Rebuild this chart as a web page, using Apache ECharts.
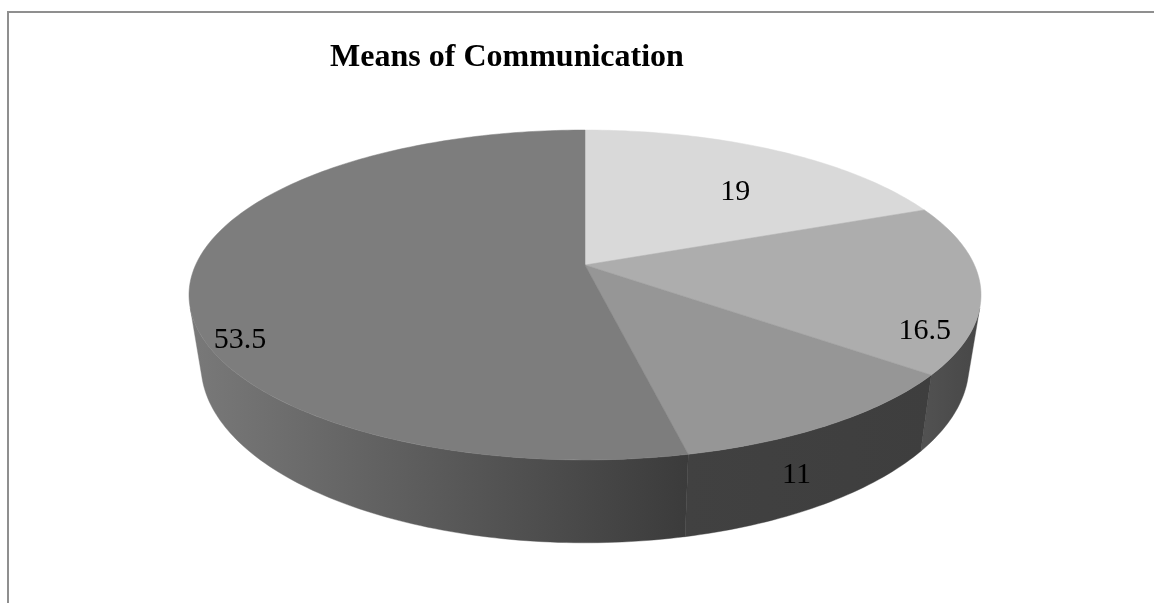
<!DOCTYPE html>
<html>
<head>
<meta charset="utf-8">
<style>html,body{margin:0;padding:0;background:#fff}#c{width:1154px;height:603px}</style>
<script src="https://cdn.jsdelivr.net/npm/echarts@6/dist/echarts.min.js"></script>
</head>
<body>
<div id="c"></div>
<script>
const chartTitle = 'Means of Communication';
const sliceValues = [19, 16.5, 11, 53.5];
const topColors = ['#d9d9d9', '#adadad', '#969696', '#7d7d7d'];
const sideColors = [
  ['#505050', '#505050'],
  ['#525252', '#474747'],
  ['#414141', '#3e3e3e'],
  ['#797979', '#3b3b3b']
];
const labelOffsets = [[-40, 42], [-56, 43], [-35, 51], [50, 57]];

// Perspective model of the disc: face and lower rim share the same foreshortening k.
const k = 0.1818, cx = 585;
const face = { A: 389.4, B: 159.5, y0: 265 };
const rim = { A: 377.6, B: 172, y0: 332.6 };
const sideFrom = 105, sideTo = 255;

function project(p, deg, r) {
  const t = deg * Math.PI / 180, u = r * Math.sin(t), v = -r * Math.cos(t), d = 1 - k * v;
  return [cx + p.A * u / d, p.y0 + p.B * v / d];
}
function arc(p, a, b) {
  const n = Math.max(2, Math.ceil(Math.abs(b - a))), pts = [];
  for (let i = 0; i <= n; i++) pts.push(project(p, a + (b - a) * i / n, 1));
  return pts;
}
const total = sliceValues.reduce((s, x) => s + x, 0);

function renderItem(params, api) {
  const i = params.dataIndex;
  let before = 0;
  for (let j = 0; j < i; j++) before += sliceValues[j];
  const a = before / total * 360, b = (before + api.value(0)) / total * 360;
  const children = [];
  const sa = Math.max(a, sideFrom), sb = Math.min(b, sideTo);
  if (sb > sa) {
    const upper = arc(face, sa, sb), lower = arc(rim, sa, sb).reverse();
    const xs = upper.concat(lower).map(q => q[0]);
    const fill = {
      type: 'linear', global: true,
      x: Math.min.apply(null, xs), y: 0, x2: Math.max.apply(null, xs), y2: 0,
      colorStops: [{ offset: 0, color: sideColors[i][0] }, { offset: 1, color: sideColors[i][1] }]
    };
    children.push({
      type: 'polygon', z2: 1,
      shape: { points: upper.concat(lower) },
      style: { fill: fill, stroke: fill, lineWidth: 0.4 }
    });
  }
  children.push({
    type: 'polygon', z2: 2,
    shape: { points: [project(face, 0, 0)].concat(arc(face, a, b)) },
    style: { fill: topColors[i], stroke: topColors[i], lineWidth: 0.5 }
  });
  const mid = project(face, (a + b) / 2, 1);
  children.push({
    type: 'text', z2: 3,
    style: {
      text: String(api.value(0)),
      x: mid[0] + labelOffsets[i][0], y: mid[1] + labelOffsets[i][1],
      align: 'center', verticalAlign: 'middle',
      font: '30px "Liberation Serif", serif', fill: '#000'
    }
  });
  return { type: 'group', children: children };
}

const chart = echarts.init(document.getElementById('c'), null, { renderer: 'canvas' });
chart.setOption({
  animation: false,
  backgroundColor: '#ffffff',
  title: {
    text: chartTitle, left: 502, top: 37, textAlign: 'center',
    textStyle: { fontFamily: '"Liberation Serif", serif', fontWeight: 'bold', fontSize: 32, color: '#000' }
  },
  graphic: [
    { type: 'rect', shape: { x: 7, y: 11, width: 2, height: 592 }, style: { fill: '#8f8f8f' } },
    { type: 'rect', shape: { x: 7, y: 11, width: 1147, height: 2 }, style: { fill: '#8f8f8f' } }
  ],
  series: [{
    type: 'custom',
    coordinateSystem: 'none',
    renderItem: renderItem,
    data: sliceValues.map(v => [v]),
    silent: true
  }]
});
</script>
</body>
</html>
